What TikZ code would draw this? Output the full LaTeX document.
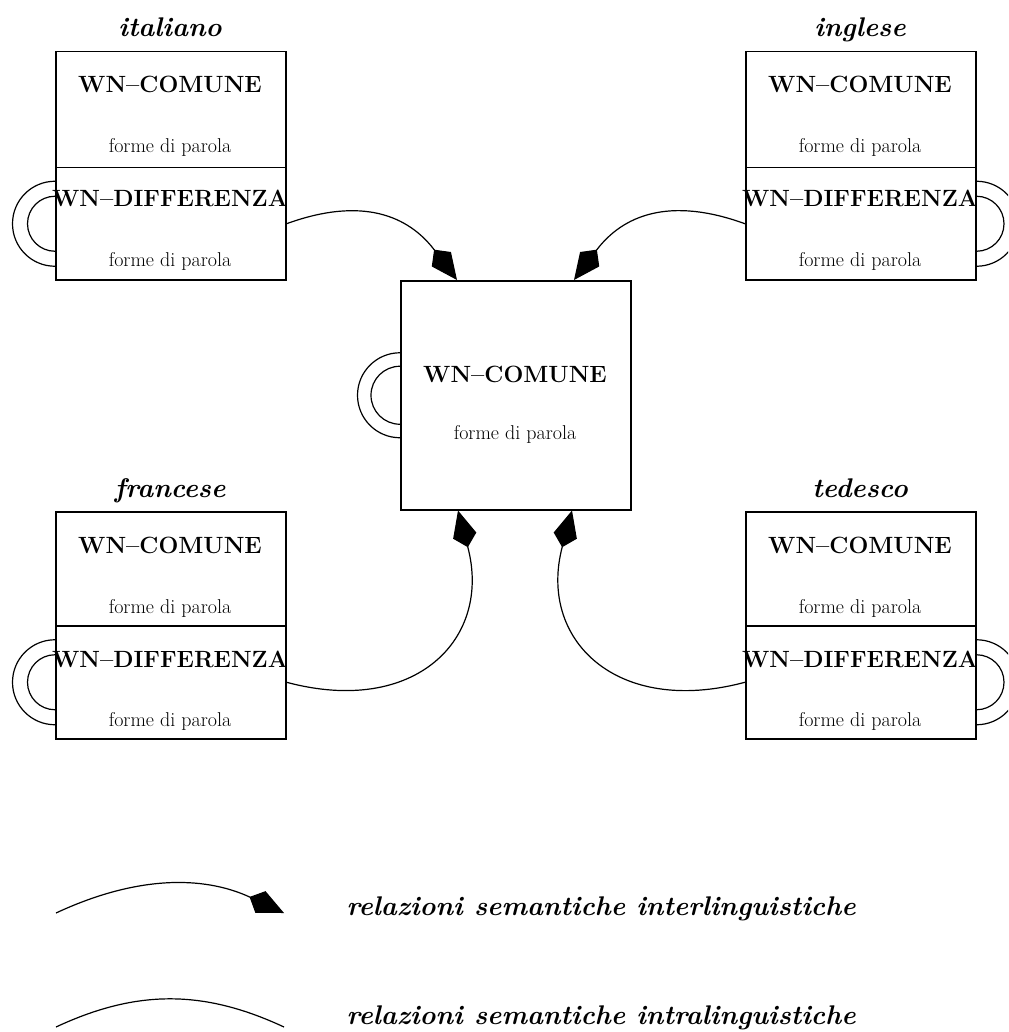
\documentclass[tikz,border=0pt]{standalone}
\usetikzlibrary{arrows.meta,calc}
\begin{document}
\begin{tikzpicture}[x=1pt,y=1pt,
  langbox/.style={draw, rectangle, line width=1.5pt, minimum width=230pt,
    inner sep=0pt, anchor=north west},
  lang/.style={anchor=base, font=\fontsize{27}{32}\selectfont\bfseries\itshape},
  wn/.style={anchor=base, font=\fontsize{23.5}{28}\selectfont\bfseries},
  forms/.style={anchor=base, font=\fontsize{20}{24}\selectfont},
  legendtext/.style={anchor=base west, font=\fontsize{27}{32}\selectfont\bfseries\itshape},
  rel/.style={line width=1.2pt},
  inter/.style={rel, -{Kite[length=38pt,width=24pt,inset=12pt]}}
]
\useasboundingbox (0,0) rectangle (1008,-1032);
\clip (0,0) rectangle (1008,-1032);

% ---- language databases: common part above, language-specific part below
\node[langbox, minimum height=116pt] (itc) at (55,-51) {};
\node[langbox, minimum height=112pt] (itd) at (55,-167) {};
\node[langbox, minimum height=116pt] (enc) at (745,-51) {};
\node[langbox, minimum height=112pt] (end) at (745,-167) {};
\node[langbox, minimum height=114pt] (frc) at (55,-511) {};
\node[langbox, minimum height=113pt] (frd) at (55,-625) {};
\node[langbox, minimum height=114pt] (dec) at (745,-511) {};
\node[langbox, minimum height=113pt] (ded) at (745,-625) {};

% ---- shared central base
\node[langbox, minimum height=229pt] (wn) at (400,-280) {};

% ---- language names
\node[lang] (itname) at (170,-37) {italiano};
\node[lang] (enname) at (860,-37) {inglese};
\node[lang] (frname) at (170,-497) {francese};
\node[lang] (dename) at (860,-497) {tedesco};

% ---- box contents
\foreach \b/\x/\y in {it/170/0, en/860/0, fr/170/-460, de/860/-460}{
  \node[wn]    (\b c1) at (\x,-93+\y)  {WN--COMUNE};
  \node[forms] (\b c2) at (\x,-153+\y) {forme di parola};
  \node[wn]    (\b d1) at (\x,-207+\y) {WN--DIFFERENZA};
  \node[forms] (\b d2) at (\x,-266+\y) {forme di parola};
}
\node[wn]    (wn1) at (515,-382) {WN--COMUNE};
\node[forms] (wn2) at (515,-439) {forme di parola};

% ---- interlingual relations towards the central base
\draw[inter] (itd.east) to[out=20,in=127,looseness=1.15] ($(wn.north west)+(57,0)$);
\draw[inter] (end.west) to[out=160,in=53,looseness=1.15] ($(wn.north west)+(174,0)$);
\draw[inter] (frd.east) to[out=-15,in=-75,looseness=1.4] ($(wn.south west)+(58,0)$);
\draw[inter] (ded.west) to[out=195,in=-105,looseness=1.4] ($(wn.south west)+(172,0)$);

% ---- intralingual relations (self loops)
\foreach \n in {itd,frd}{
  \draw[rel] ($(\n.west)+(0,42.5)$) arc[start angle=90,end angle=270,radius=42.5];
  \draw[rel] ($(\n.west)+(0,27.5)$) arc[start angle=90,end angle=270,radius=27.5];
}
\foreach \n in {end,ded}{
  \draw[rel] ($(\n.east)+(0,42.5)$) arc[start angle=90,end angle=-90,radius=42.5];
  \draw[rel] ($(\n.east)+(0,27.5)$) arc[start angle=90,end angle=-90,radius=27.5];
}
\draw[rel] ($(wn.west)+(0,42.5)$) arc[start angle=90,end angle=270,radius=42.5];
\draw[rel] ($(wn.west)+(0,29)$) arc[start angle=90,end angle=270,radius=29];

% ---- legend
\coordinate (l1a) at (56,-913);
\coordinate (l1b) at (284,-913);
\coordinate (l2a) at (56,-1027);
\coordinate (l2b) at (284,-1027);
\draw[inter] (l1a) to[out=25,in=155] (l1b);
\draw[rel] (l2a) to[out=25,in=155] (l2b);
\node[legendtext] (leg1) at (343,-915) {relazioni semantiche interlinguistiche};
\node[legendtext] (leg2) at (343,-1024) {relazioni semantiche intralinguistiche};
\end{tikzpicture}
\end{document}
